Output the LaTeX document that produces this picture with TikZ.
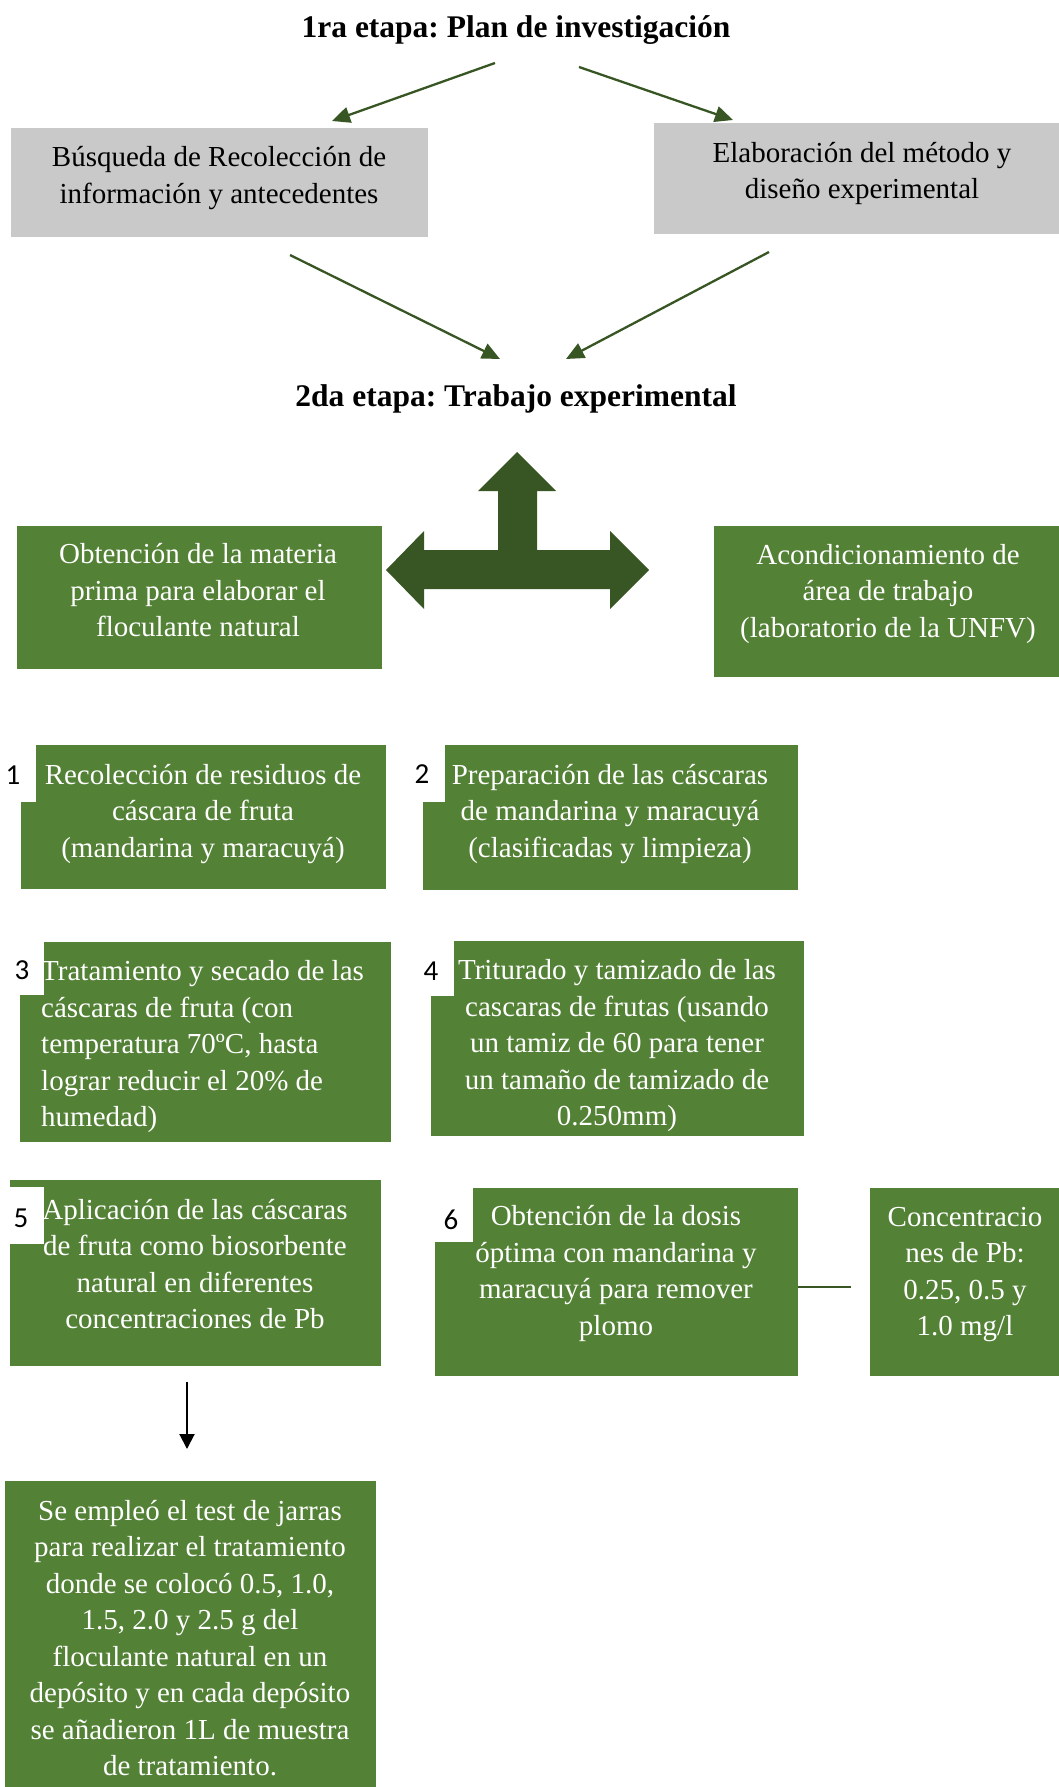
\documentclass[tikz,border=0pt]{standalone}
\usepackage{fontspec}
\setmainfont{Liberation Serif}
\newfontfamily\numfont{Carlito}
\usetikzlibrary{arrows.meta}
\definecolor{boxgreen}{HTML}{538135}
\definecolor{darkgreen}{HTML}{375623}
\definecolor{boxgray}{HTML}{C9C9C9}
\newcommand\txtsz{\fontsize{29}{36.5}\selectfont}
\newcommand\ttlsz{\fontsize{31.5}{38}\selectfont\bfseries}
\newcommand\numsz{\numfont\fontsize{29}{32}\selectfont}
\frenchspacing
\begin{document}
\begin{tikzpicture}[x=1pt,y=-1pt,
  panel/.style={anchor=north west, inner sep=0pt, outer sep=0pt, draw=none},
  gpanel/.style={panel, fill=boxgreen},
  graypanel/.style={panel, fill=boxgray},
  numlbl/.style={panel, fill=white},
  wtxt/.style={text=white, align=center, font=\txtsz, inner sep=0pt},
  btxt/.style={text=black, align=center, font=\txtsz, inner sep=0pt},
  ttl/.style={font=\ttlsz, inner sep=0pt},
  numtxt/.style={font=\numsz, inner sep=0pt},
  garrow/.style={draw=darkgreen, line width=2.3pt, -{Triangle[length=18pt,width=16pt]}},
  karrow/.style={draw=black, line width=2pt, -{Triangle[length=15pt,width=15pt]}},
]
\useasboundingbox (0,0) rectangle (1059,1787);

% titles
\node[ttl] (title1) at (516,30) {1ra etapa: Plan de investigación};
\node[ttl] (title2) at (516,399) {2da etapa: Trabajo experimental};

% gray panels
\node[graypanel, minimum width=417, minimum height=109] (g1) at (11,128) {};
\node[graypanel, minimum width=405, minimum height=111] (g2) at (654,123) {};
\node[btxt] (tg1) at (219,178) {Búsqueda de Recolección de\\información y antecedentes};
\node[btxt] (tg2) at (862,173.5) {Elaboración del método y\\diseño experimental};

% connectors stage 1
\coordinate (a1s) at (495,63);  \coordinate (a1e) at (332,121);
\coordinate (a2s) at (579,67);  \coordinate (a2e) at (733,120);
\coordinate (a3s) at (290,255); \coordinate (a3e) at (500,359);
\coordinate (a4s) at (769,252); \coordinate (a4e) at (566,359);
\draw[garrow] (a1s) -- (a1e);
\draw[garrow] (a2s) -- (a2e);
\draw[garrow] (a3s) -- (a3e);
\draw[garrow] (a4s) -- (a4e);

% triple arrow
\fill[darkgreen] (517,452) -- (556,491) -- (537,491) -- (537,550) -- (610,550) -- (610,531)
  -- (649,570) -- (610,609) -- (610,589) -- (424,589) -- (424,609) -- (386,570)
  -- (424,531) -- (424,550) -- (498,550) -- (498,491) -- (478,491) -- cycle;

% stage 2 panels
\node[gpanel, minimum width=365, minimum height=143] (o1) at (17,526) {};
\node[gpanel, minimum width=345, minimum height=151] (o2) at (714,526) {};
\node[wtxt] (to1) at (198,590.5) {Obtención de la materia\\prima para elaborar el\\floculante natural};
\node[wtxt] (to2) at (888,594) {Acondicionamiento de\\área de trabajo\\(laboratorio de la UNFV)};

% steps
\node[gpanel, minimum width=365, minimum height=144] (s1) at (21,745) {};
\node[gpanel, minimum width=375, minimum height=145] (s2) at (423,745) {};
\node[gpanel, minimum width=371, minimum height=200] (s3) at (20,942) {};
\node[gpanel, minimum width=373, minimum height=195] (s4) at (431,941) {};
\node[gpanel, minimum width=371, minimum height=186] (s5) at (10,1180) {};
\node[gpanel, minimum width=363, minimum height=188] (s6) at (435,1188) {};
\node[gpanel, minimum width=189, minimum height=188] (s7) at (870,1188) {};
\node[gpanel, minimum width=371, minimum height=306] (s8) at (5,1481) {};

% number labels
\node[numlbl, minimum width=15, minimum height=57] (l1) at (21,745) {};
\node[numlbl, minimum width=22, minimum height=57] (l2) at (423,745) {};
\node[numlbl, minimum width=24, minimum height=53] (l3) at (20,942) {};
\node[numlbl, minimum width=23, minimum height=55] (l4) at (431,941) {};
\node[numlbl, minimum width=34, minimum height=57] (l5) at (10,1187) {};
\node[numlbl, minimum width=38, minimum height=54] (l6) at (435,1188) {};
\node[numtxt] (n1) at (13,775) {1};
\node[numtxt] (n2) at (422,774) {2};
\node[numtxt] (n3) at (22,970) {3};
\node[numtxt] (n4) at (431,971) {4};
\node[numtxt] (n5) at (21,1218) {5};
\node[numtxt] (n6) at (451,1220) {6};

% step texts
\node[wtxt] (ts1) at (203,814) {Recolección de residuos de\\cáscara de fruta\\(mandarina y maracuyá)};
\node[wtxt] (ts2) at (610,814) {Preparación de las cáscaras\\de mandarina y maracuyá\\(clasificadas y limpieza)};
\node[wtxt, align=left, anchor=west] (ts3) at (41,1047) {Tratamiento y secado de las\\cáscaras de fruta (con\\temperatura 70ºC, hasta\\lograr reducir el 20\% de\\humedad)};
\node[wtxt] (ts4) at (617,1046) {Triturado y tamizado de las\\cascaras de frutas (usando\\un tamiz de 60 para tener\\un tamaño de tamizado de\\0.250mm)};
\node[wtxt] (ts5) at (195,1264) {Aplicación de las cáscaras\\de fruta como biosorbente\\natural en diferentes\\concentraciones de Pb};
\node[wtxt] (ts6) at (616,1273.5) {Obtención de la dosis\\óptima con mandarina y\\maracuyá para remover\\plomo};
\node[wtxt] (ts7) at (965,1274.5) {Concentracio\\nes de Pb:\\0.25, 0.5 y\\1.0 mg/l};
\node[wtxt] (ts8) at (190,1638) {Se empleó el test de jarras\\para realizar el tratamiento\\donde se colocó 0.5, 1.0,\\1.5, 2.0 y 2.5 g del\\floculante natural en un\\depósito y en cada depósito\\se añadieron 1L de muestra\\de tratamiento.};

% connectors bottom
\coordinate (c6a) at (798,1287); \coordinate (c6b) at (851,1287);
\draw[darkgreen, line width=1.5pt] (c6a) -- (c6b);
\coordinate (d1s) at (187,1382); \coordinate (d1e) at (187,1449);
\draw[karrow] (d1s) -- (d1e);
\end{tikzpicture}
\end{document}
